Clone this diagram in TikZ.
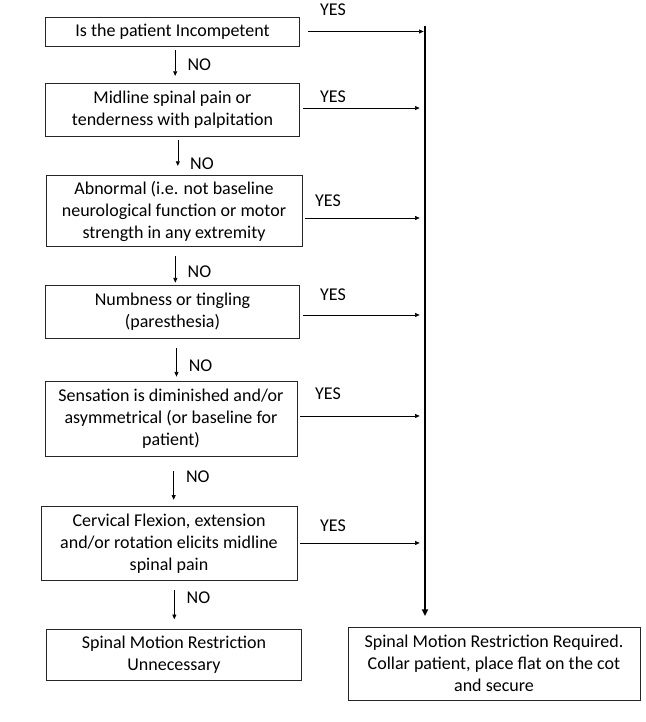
\documentclass[tikz,border=0pt]{standalone}
\usepackage{fontspec}
\setmainfont{Carlito}
\usepackage{tikz}
\usetikzlibrary{positioning,arrows.meta,calc}

\tikzset{
    qbox/.style={draw=black!85, line width=0.6pt, align=center, inner sep=2pt,
        font=\fontsize{13.5}{16.5}\selectfont},
    lbl/.style={font=\fontsize{13.5}{16.5}\selectfont, inner sep=0pt},
    flow/.style={-{Triangle[length=3.5pt,width=3pt]}, line width=0.5pt},
    spine/.style={-{Triangle[length=5pt,width=4.5pt]}, line width=1.6pt}
}

\begin{document}
\begin{tikzpicture}[x=0.75pt,y=-0.75pt]
    \useasboundingbox (0,0) rectangle (646,722);

    % Questions
    \node[qbox, minimum width=191pt, minimum height=21.75pt] (q1) at (172.5,31.5) {Is the patient Incompetent};
    \node[qbox, minimum width=191pt, minimum height=39.75pt] (q2) at (172.5,109.5) {Midline spinal pain or\\tenderness with palpitation};
    \node[qbox, minimum width=192pt, minimum height=53pt] (q3) at (174,211) {Abnormal (i.e. not baseline\\neurological function or motor\\strength in any extremity};
    \node[qbox, minimum width=191pt, minimum height=39.75pt] (q4) at (172.5,311.5) {Numbness or tingling\\(paresthesia)};
    \node[qbox, minimum width=189pt, minimum height=56.25pt] (q5) at (171,418.5) {Sensation is diminished and/or\\asymmetrical (or baseline for\\patient)};
    \node[qbox, minimum width=192pt, minimum height=55pt] (q6) at (169,543.5) {Cervical Flexion, extension\\and/or rotation elicits midline\\spinal pain};

    % Outcomes
    \node[qbox, minimum width=191pt, minimum height=38.25pt] (none) at (174,654.5) {Spinal Motion Restriction\\Unnecessary};
    \node[qbox, minimum width=219pt, minimum height=54.75pt] (smr) at (494,663.5) {Spinal Motion Restriction Required.\\Collar patient, place flat on the cot\\and secure};

    % YES line
    \coordinate (top) at (425,26);
    \coordinate (bot) at (425,616);
    \draw[spine] (top) -- (bot);

    % YES branches
    \foreach \n/\dy/\s/\e in {q1/0/6/1, q2/1.1/2/4, q3/-5.25/2/4, q4/-2.6/2/4, q5/1.9/2/4, q6/0.4/2/4} {
        \draw[flow, shorten <=\s pt, shorten >=\e pt] ([yshift=\dy pt]\n.east) -- ([yshift=\dy pt]\n.east -| top);
    }
    \node[lbl] (yes1) at (333,10) {YES};
    \node[lbl] (yes2) at (333,97) {YES};
    \node[lbl] (yes3) at (328,201) {YES};
    \node[lbl] (yes4) at (333,295) {YES};
    \node[lbl] (yes5) at (328,394) {YES};
    \node[lbl] (yes6) at (333,526) {YES};

    % NO branches
    \foreach \a/\b/\dx/\s/\e/\p in {q1/q2/2/3/5/0.5, q2/q3/4/3/7/0.7, q3/q4/1/7/1.5/0.65, q4/q5/3/7/3/0.65, q5/q6/2/11/5/0.4, q6/none/4/7/7/0.35} {
        \draw[flow, shorten <=\s pt, shorten >=\e pt] ([xshift=\dx pt]\a.south) -- ([xshift=\dx pt]\a.south |- \b.north)
            node[lbl, pos=\p, right=9pt] {NO};
    }
\end{tikzpicture}
\end{document}
